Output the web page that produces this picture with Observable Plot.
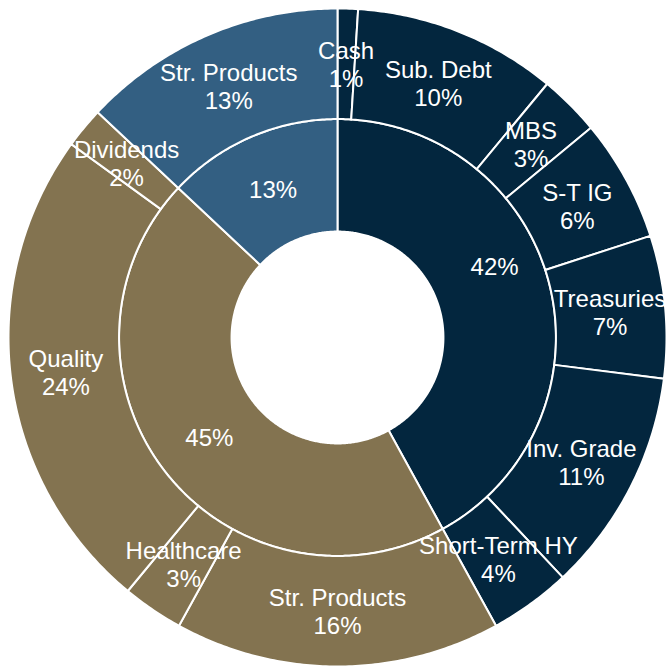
<!DOCTYPE html>
<html>
<head>
<meta charset="utf-8">
<script src="https://cdn.jsdelivr.net/npm/d3@7"></script>
<script src="https://cdn.jsdelivr.net/npm/@observablehq/plot@0.6"></script>
<style>
  html, body { margin: 0; padding: 0; background: #ffffff; }
  #chart svg { display: block; }
</style>
</head>
<body>
<div id="chart"></div>
<script>
// ---- Data ----
const innerLabels = ["42%", "45%", "13%"];
const innerValues = [42, 45, 13];
const groupColors = ["#03263e", "#837350", "#335f82"];

const outerCategories = ["Cash", "Sub. Debt", "MBS", "S-T IG", "Treasuries", "Inv. Grade", "Short-Term HY",
                         "Str. Products", "Healthcare", "Quality", "Dividends", "Str. Products"];
const outerValues = [1, 10, 3, 6, 7, 11, 4, 16, 3, 24, 2, 13];
const outerGroup = [0, 0, 0, 0, 0, 0, 0, 1, 1, 1, 1, 2];

// ---- Layout (ring radii as fraction of outer radius) ----
const R_HOLE = 0.322, R_MID = 0.664, R_OUT = 1;

function slices(values, r0, r1, colorOf, labelOf) {
  const total = d3.sum(values);
  let acc = 0;
  const polys = [], labels = [];
  values.forEach((v, i) => {
    const a0 = acc / total * 2 * Math.PI;
    acc += v;
    const a1 = acc / total * 2 * Math.PI;
    const n = Math.max(4, Math.ceil((a1 - a0) / 0.01));
    const id = r0 + "-" + i;
    const color = colorOf(i);
    for (let k = 0; k <= n; k++) {
      const a = a0 + (a1 - a0) * k / n;
      polys.push({id, color, x: r1 * Math.sin(a), y: r1 * Math.cos(a)});
    }
    for (let k = n; k >= 0; k--) {
      const a = a0 + (a1 - a0) * k / n;
      polys.push({id, color, x: r0 * Math.sin(a), y: r0 * Math.cos(a)});
    }
    const am = (a0 + a1) / 2, rm = (r0 + r1) / 2;
    labels.push({i, text: labelOf(i), x: rm * Math.sin(am), y: rm * Math.cos(am)});
  });
  return {polys, labels};
}

const inner = slices(innerValues, R_HOLE, R_MID, i => groupColors[i], i => innerLabels[i]);
const outer = slices(outerValues, R_MID, R_OUT, i => groupColors[outerGroup[i]],
                     i => outerCategories[i] + "\n" + outerValues[i] + "%");

const textStyle = {fill: "white", fontSize: 24, fontFamily: "Liberation Sans, Arial, sans-serif", lineHeight: 1.17};

const chart = Plot.plot({
  width: 666,
  height: 667,
  marginLeft: 8,
  marginRight: 0,
  marginTop: 8,
  marginBottom: 1,
  x: {domain: [-1, 1], axis: null},
  y: {domain: [-1, 1], axis: null},
  color: {type: "identity"},
  style: {background: "white"},
  marks: [
    Plot.line(inner.polys, {x: "x", y: "y", z: "id", fill: "color", stroke: "white", strokeWidth: 2, curve: "linear-closed"}),
    Plot.line(outer.polys, {x: "x", y: "y", z: "id", fill: "color", stroke: "white", strokeWidth: 2, curve: "linear-closed"}),
    Plot.text(outer.labels, {x: "x", y: "y", text: "text", ...textStyle}),
    Plot.text(inner.labels.filter(d => d.i !== 0), {x: "x", y: "y", text: "text", ...textStyle}),
    Plot.text(inner.labels.filter(d => d.i === 0), {x: "x", y: "y", text: "text", dy: -31, ...textStyle})
  ]
});
document.getElementById("chart").appendChild(chart);
</script>
</body>
</html>
